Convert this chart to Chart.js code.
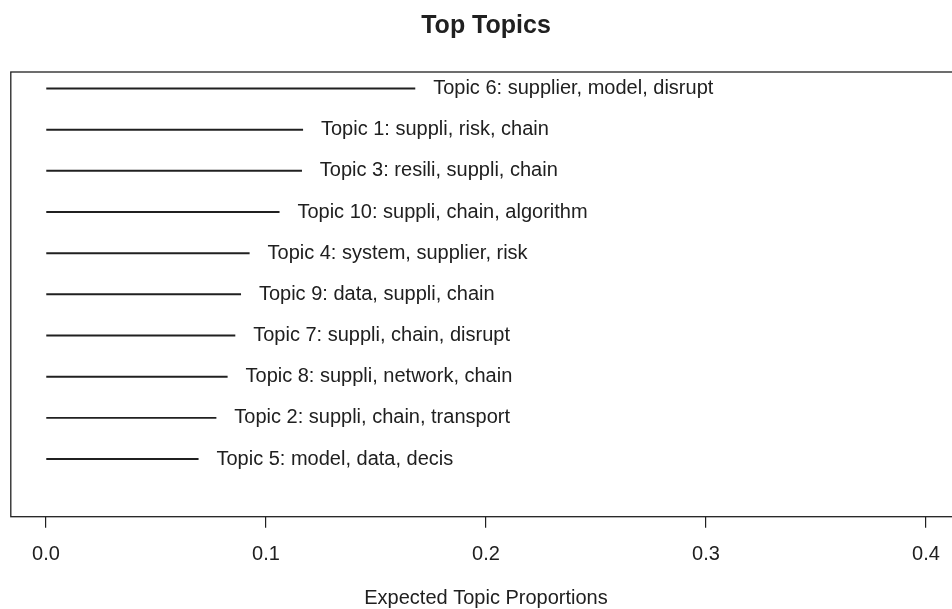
<!DOCTYPE html>
<html>
<head>
<meta charset="utf-8">
<script src="https://cdn.jsdelivr.net/npm/chart.js@4/dist/chart.umd.min.js"></script>
<style>
  html, body { margin: 0; padding: 0; background: #fff; overflow: hidden; }
  #wrap { width: 968px; height: 609px; }
</style>
</head>
<body>
<div id="wrap"><canvas id="myChart"></canvas></div>
<script>
// topics, top row first
const topicLabels = [
  "Topic 6: supplier, model, disrupt",
  "Topic 1: suppli, risk, chain",
  "Topic 3: resili, suppli, chain",
  "Topic 10: suppli, chain, algorithm",
  "Topic 4: system, supplier, risk",
  "Topic 9: data, suppli, chain",
  "Topic 7: suppli, chain, disrupt",
  "Topic 8: suppli, network, chain",
  "Topic 2: suppli, chain, transport",
  "Topic 5: model, data, decis"
];
const proportions = [0.1677, 0.1167, 0.1162, 0.1060, 0.0924, 0.0885, 0.0859, 0.0824, 0.0773, 0.0692];
const xTicks = [0.0, 0.1, 0.2, 0.3, 0.4];

const FONT = "'Liberation Sans', Arial, sans-serif";
const INK = '#202020';

let n = topicLabels.length;
let minProp = Math.min(...proportions);
// row 1 is the bottom one, like the R plot
let points = proportions.map((v, i) => ({x: v, y: n - i}));

const topicText = {
  id: 'topicText',
  afterDatasetsDraw(chart) {
    const ctx = chart.ctx;
    const xs = chart.scales.x, ys = chart.scales.y;
    ctx.save();
    ctx.font = '20px ' + FONT;
    ctx.fillStyle = INK;
    ctx.textBaseline = 'middle';
    ctx.textAlign = 'left';
    for (let i = 0; i < n; i++) {
      let px = xs.getPixelForValue(proportions[i] + minProp / 10) + 3;
      let py = ys.getPixelForValue(points[i].y);
      ctx.fillText(topicLabels[i], px, py);
    }
    ctx.restore();
  }
};

const plotBox = {
  id: 'plotBox',
  afterDraw(chart) {
    const a = chart.chartArea;
    const ctx = chart.ctx;
    ctx.save();
    ctx.strokeStyle = INK;
    ctx.lineWidth = 1.3;
    ctx.strokeRect(a.left, a.top, a.right - a.left, a.bottom - a.top);
    ctx.restore();
  }
};

const config = {
  type: 'bar',
  data: {
    datasets: [{
      data: points,
      backgroundColor: INK,
      borderWidth: 0,
      barThickness: 1.3
    }]
  },
  options: {
    indexAxis: 'y',
    responsive: true,
    maintainAspectRatio: false,
    animation: false,
    layout: { padding: { left: 10.8, right: 6.8, top: 0, bottom: 0 } },
    plugins: {
      legend: { display: false },
      tooltip: { enabled: false },
      title: {
        display: true,
        fullSize: false,
        text: 'Top Topics',
        color: INK,
        font: { family: FONT, size: 25, weight: 'bold', lineHeight: 1.2 },
        padding: { top: 11.5, bottom: 30.5 }
      }
    },
    scales: {
      x: {
        type: 'linear',
        min: -0.016,
        max: 0.416,
        afterBuildTicks(scale) {
          scale.ticks = xTicks.map(v => ({value: v}));
        },
        afterFit(scale) { scale.height = 92.3; },
        border: { display: false },
        grid: {
          drawOnChartArea: false,
          drawTicks: true,
          tickLength: 11,
          color: INK,
          lineWidth: 1.2
        },
        ticks: {
          padding: 14.5,
          color: INK,
          font: { family: FONT, size: 20, lineHeight: 1.2 },
          callback: v => Number(v).toFixed(1)
        },
        title: {
          display: true,
          text: 'Expected Topic Proportions',
          color: INK,
          font: { family: FONT, size: 20, lineHeight: 1.1 },
          padding: { top: 0, bottom: 0 }
        }
      },
      y: {
        type: 'linear',
        min: -0.4,
        max: 10.4,
        offset: false,
        display: false
      }
    }
  },
  plugins: [topicText, plotBox]
};

const myChart = new Chart(document.getElementById('myChart'), config);
</script>
</body>
</html>
